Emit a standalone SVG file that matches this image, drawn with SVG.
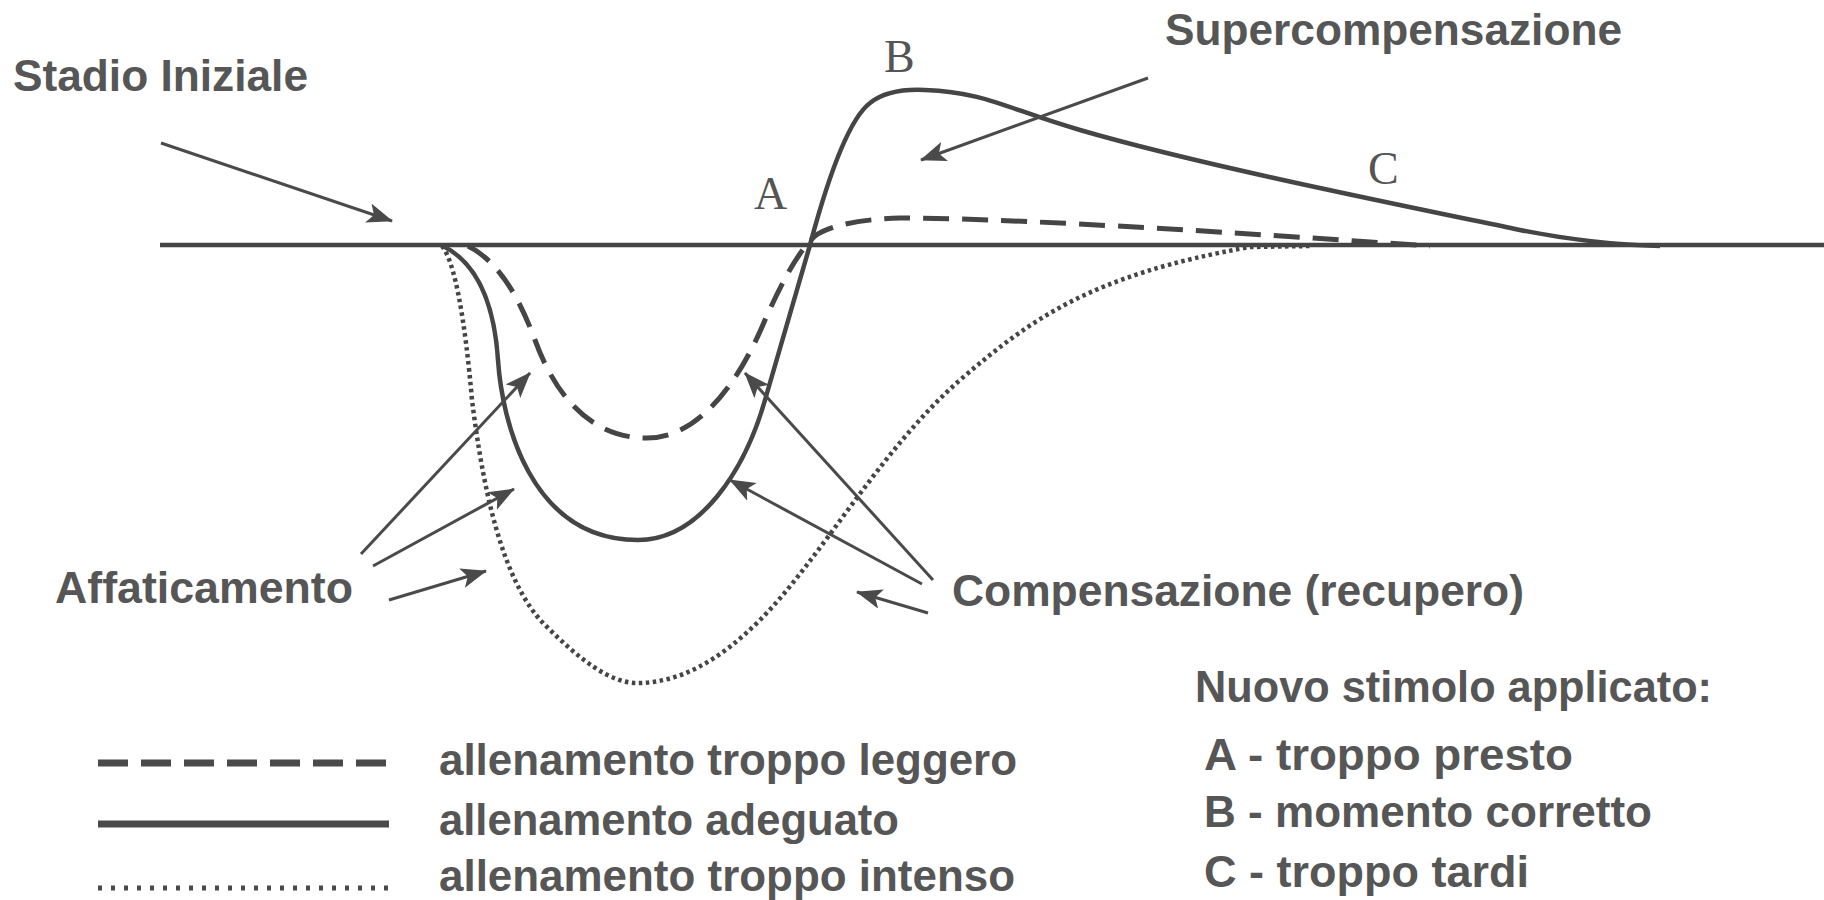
<svg xmlns="http://www.w3.org/2000/svg" width="1824" height="900" viewBox="0 0 1824 900">
<style>
  .lbl { font-family: "Liberation Sans", Arial, sans-serif; font-weight: bold; font-size: 44px; fill: #565656; }
  .ltr { font-family: "Liberation Serif", "Times New Roman", serif; font-size: 46px; fill: #555; }
  .curve { fill: none; stroke: #454545; stroke-linecap: butt; stroke-linejoin: round; }
  .solid { stroke-width: 4.5; }
  .dash { stroke-width: 5; stroke-dasharray: 26 13; }
  .dot { stroke-width: 4.5; stroke-dasharray: 3.5 3.5; }
  .arrow { fill: none; stroke: #4a4a4a; stroke-width: 3; marker-end: url(#ah); }
</style>
<defs>
  <marker id="ah" markerUnits="userSpaceOnUse" markerWidth="28" markerHeight="22" refX="25" refY="10" orient="auto">
    <path d="M0,0 L26,10 L0,20 L6,10 Z" fill="#4a4a4a"/>
  </marker>
</defs>
<rect width="1824" height="900" fill="#ffffff"/>

<g id="baseline">
  <path class="curve solid" d="M160 245 H1824"/>
</g>

<g id="curve-adeguato">
  <path class="curve solid" d="M443 246 C475 262 494 300 498 360 C502 420 530 540 638 540 C700 540 745 470 765 400 C785 330 800 280 810 245 C822 200 845 122 870 103 C885 91 905 89 925 90 C985 92 1010 110 1080 130 C1200 165 1400 205 1520 230 C1570 240 1610 245 1660 246"/>
</g>
<g id="curve-leggero">
  <path class="curve dash" d="M468 246 C500 262 520 300 535 340 C555 395 590 438 647 438 C700 438 740 380 765 320 C785 275 800 250 815 236 C828 226 860 219 900 218 C1000 218 1200 230 1430 246"/>
</g>
<g id="curve-intenso">
  <path class="curve dot" d="M442 246 C455 262 465 320 472 400 C482 480 500 580 545 625 C580 660 610 683 637 683 C680 683 720 660 760 620 C820 560 880 450 960 380 C1030 320 1090 275 1250 247 L1310 246"/>
</g>

<g id="connectors">
  <line class="arrow" x1="161" y1="143" x2="392" y2="221"/>
  <line class="arrow" x1="1148" y1="78" x2="921" y2="160"/>
  <line class="arrow" x1="361" y1="554" x2="530" y2="373"/>
  <line class="arrow" x1="373" y1="566" x2="514" y2="489"/>
  <line class="arrow" x1="389" y1="600" x2="486" y2="571"/>
  <line class="arrow" x1="933" y1="580" x2="745" y2="373"/>
  <line class="arrow" x1="922" y1="584" x2="730" y2="480"/>
  <line class="arrow" x1="928" y1="613" x2="857" y2="592"/>
</g>

<g id="label-stadio"><text class="lbl" x="13" y="91" textLength="295" lengthAdjust="spacingAndGlyphs">Stadio Iniziale</text></g>
<g id="label-super"><text class="lbl" x="1165" y="45" textLength="457" lengthAdjust="spacingAndGlyphs">Supercompensazione</text></g>
<g id="label-affaticamento"><text class="lbl" x="55" y="603" textLength="298" lengthAdjust="spacingAndGlyphs">Affaticamento</text></g>
<g id="label-compensazione"><text class="lbl" x="952" y="606" textLength="572" lengthAdjust="spacingAndGlyphs">Compensazione (recupero)</text></g>

<g id="point-A"><text class="ltr" x="754" y="209">A</text></g>
<g id="point-B"><text class="ltr" x="884" y="72">B</text></g>
<g id="point-C"><text class="ltr" x="1368" y="184">C</text></g>

<g id="legend-lines">
  <g id="legend-leggero">
    <path d="M98 763 H389" fill="none" stroke="#4a4a4a" stroke-width="7" stroke-dasharray="30 13"/>
    <text class="lbl" x="439" y="775" textLength="578" lengthAdjust="spacingAndGlyphs">allenamento troppo leggero</text>
  </g>
  <g id="legend-adeguato">
    <path d="M98 824 H389" fill="none" stroke="#4a4a4a" stroke-width="7"/>
    <text class="lbl" x="439" y="835" textLength="460" lengthAdjust="spacingAndGlyphs">allenamento adeguato</text>
  </g>
  <g id="legend-intenso">
    <path d="M98 888 H389" fill="none" stroke="#4a4a4a" stroke-width="5" stroke-dasharray="4 9"/>
    <text class="lbl" x="439" y="891" textLength="576" lengthAdjust="spacingAndGlyphs">allenamento troppo intenso</text>
  </g>
</g>

<g id="legend-stimolo">
  <text class="lbl" x="1195" y="702" textLength="517" lengthAdjust="spacingAndGlyphs">Nuovo stimolo applicato:</text>
  <text class="lbl" x="1204" y="770" textLength="369" lengthAdjust="spacingAndGlyphs">A - troppo presto</text>
  <text class="lbl" x="1204" y="827" textLength="448" lengthAdjust="spacingAndGlyphs">B - momento corretto</text>
  <text class="lbl" x="1204" y="887" textLength="325" lengthAdjust="spacingAndGlyphs">C - troppo tardi</text>
</g>
</svg>
